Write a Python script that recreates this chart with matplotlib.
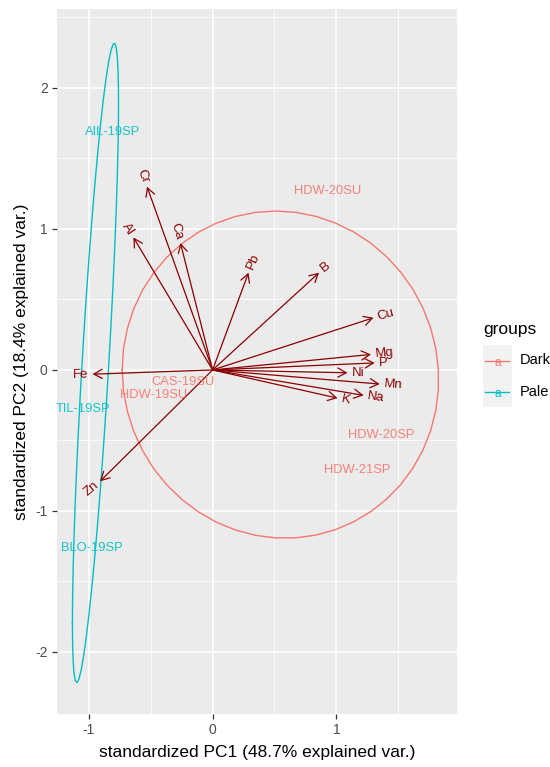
import matplotlib
matplotlib.use('Agg')
import matplotlib.pyplot as plt
from matplotlib.patches import Rectangle
from matplotlib.lines import Line2D
import numpy as np

plt.rcParams['font.family'] = ['Liberation Sans', 'DejaVu Sans']
plt.rcParams['axes.unicode_minus'] = False

# loadings (arrow tips)
var_names = ['Cr', 'Al', 'Ca', 'Pb', 'B', 'Cu', 'Mg', 'P', 'Ni', 'Mn', 'Na', 'K', 'Fe', 'Zn']
var_x = [-0.53, -0.64, -0.26, 0.29, 0.86, 1.30, 1.28, 1.31, 1.09, 1.35, 1.22, 1.01, -0.97, -0.91]
var_y = [1.30, 0.94, 0.90, 0.69, 0.69, 0.37, 0.11, 0.05, -0.02, -0.10, -0.18, -0.20, -0.03, -0.79]

# scores (sample labels)
sample_names = ['HDW-20SU', 'CAS-19SU', 'HDW-19SU', 'HDW-20SP', 'HDW-21SP',
                'AIL-19SP', 'TIL-19SP', 'BLO-19SP']
sample_x = [0.93, -0.24, -0.48, 1.36, 1.17, -0.81, -1.05, -0.98]
sample_y = [1.27, -0.085, -0.18, -0.46, -0.71, 1.69, -0.28, -1.26]
sample_group = ['Dark'] * 5 + ['Pale'] * 3

groups = ['Dark', 'Pale']
group_colors = {'Dark': '#F8766D', 'Pale': '#00BFC4'}

W, H = 550, 767
fig = plt.figure(figsize=(W / 100, H / 100), dpi=100)
ax = fig.add_axes([56.7 / W, 1 - 714 / H, (457 - 56.7) / W, (714 - 9) / H])
ax.set_facecolor('#EBEBEB')
for s in ax.spines.values():
    s.set_visible(False)

ax.set_xlim(-1.26, 1.975)
ax.set_ylim(-2.44, 2.56)
ax.set_xticks([-1, 0, 1])
ax.set_yticks([-2, -1, 0, 1, 2])
ax.set_xticks([-0.5, 0.5, 1.5], minor=True)
ax.set_yticks([-1.5, -0.5, 0.5, 1.5, 2.5], minor=True)
ax.grid(which='major', color='white', lw=1.2)
ax.grid(which='minor', color='white', lw=0.6)
ax.set_axisbelow(True)
ax.tick_params(which='major', length=3.5, width=0.9, color='#333333',
               labelcolor='#4D4D4D', labelsize=10, pad=3)
ax.tick_params(which='minor', length=0)

# ellipses (68% normal, like ggbiplot)
sx = np.array(sample_x)
sy = np.array(sample_y)
sg = np.array(sample_group)
theta = np.linspace(-np.pi, np.pi, 50)
circle = np.column_stack([np.cos(theta), np.sin(theta)])
r = np.sqrt(-2 * np.log(1 - 0.68))
for g in groups:
    m = sg == g
    pts = np.column_stack([sx[m], sy[m]])
    mu = pts.mean(axis=0)
    sigma = np.cov(pts.T)
    L = np.linalg.cholesky(sigma)
    ell = mu + r * circle @ L.T
    ax.plot(ell[:, 0], ell[:, 1], color=group_colors[g], lw=1.0)

# arrows
for name, x, y in zip(var_names, var_x, var_y):
    ax.annotate('', xy=(x, y), xytext=(0, 0),
                arrowprops=dict(arrowstyle='->,head_length=0.6,head_width=0.33',
                                color='#8B0000', lw=0.9, shrinkA=0, shrinkB=0,
                                mutation_scale=10))
    ang = np.degrees(np.arctan(y / x))
    sgn = 1 if x > 0 else -1
    off = 3.0
    dx = sgn * off * np.cos(np.radians(ang))
    dy = sgn * off * np.sin(np.radians(ang))
    ax.annotate(name, xy=(x, y), xytext=(dx, dy), textcoords='offset points',
                rotation=ang, rotation_mode='anchor',
                ha='left' if x > 0 else 'right', va='center',
                color='#8B0000', fontsize=9.5)

# sample labels
for name, x, y, g in zip(sample_names, sample_x, sample_y, sample_group):
    ax.text(x, y, name, color=group_colors[g], fontsize=9.3,
            ha='center', va='center', alpha=0.9)

# axis titles
fig.text(256.9 / W, 1 - 752 / H, 'standardized PC1 (48.7% explained var.)',
         ha='center', va='center', fontsize=12.5)
fig.text(22 / W, 1 - 361.5 / H, 'standardized PC2 (18.4% explained var.)',
         ha='center', va='center', rotation=90, fontsize=12.5)

# legend
def fx(px):
    return px / W

def fy(py):
    return 1 - py / H

fig.text(fx(483), fy(330), 'groups', ha='left', va='center', fontsize=12.5)
key_y = [360.5, 391.5]
for g, ky in zip(groups, key_y):
    fig.patches.append(Rectangle((fx(483), fy(ky + 15.5)), 29 / W, 31 / H,
                                 transform=fig.transFigure, facecolor='#F2F2F2',
                                 edgecolor='none'))
    fig.lines.append(Line2D([fx(485), fx(509)], [fy(ky), fy(ky)],
                            transform=fig.transFigure, color=group_colors[g], lw=1.0))
    fig.text(fx(497.5), fy(ky + 2), 'a', ha='center', va='center',
             color=group_colors[g], fontsize=8.5)
    fig.text(fx(520), fy(ky), g, ha='left', va='center', fontsize=10.5)

fig.savefig('out.png', dpi=100)
